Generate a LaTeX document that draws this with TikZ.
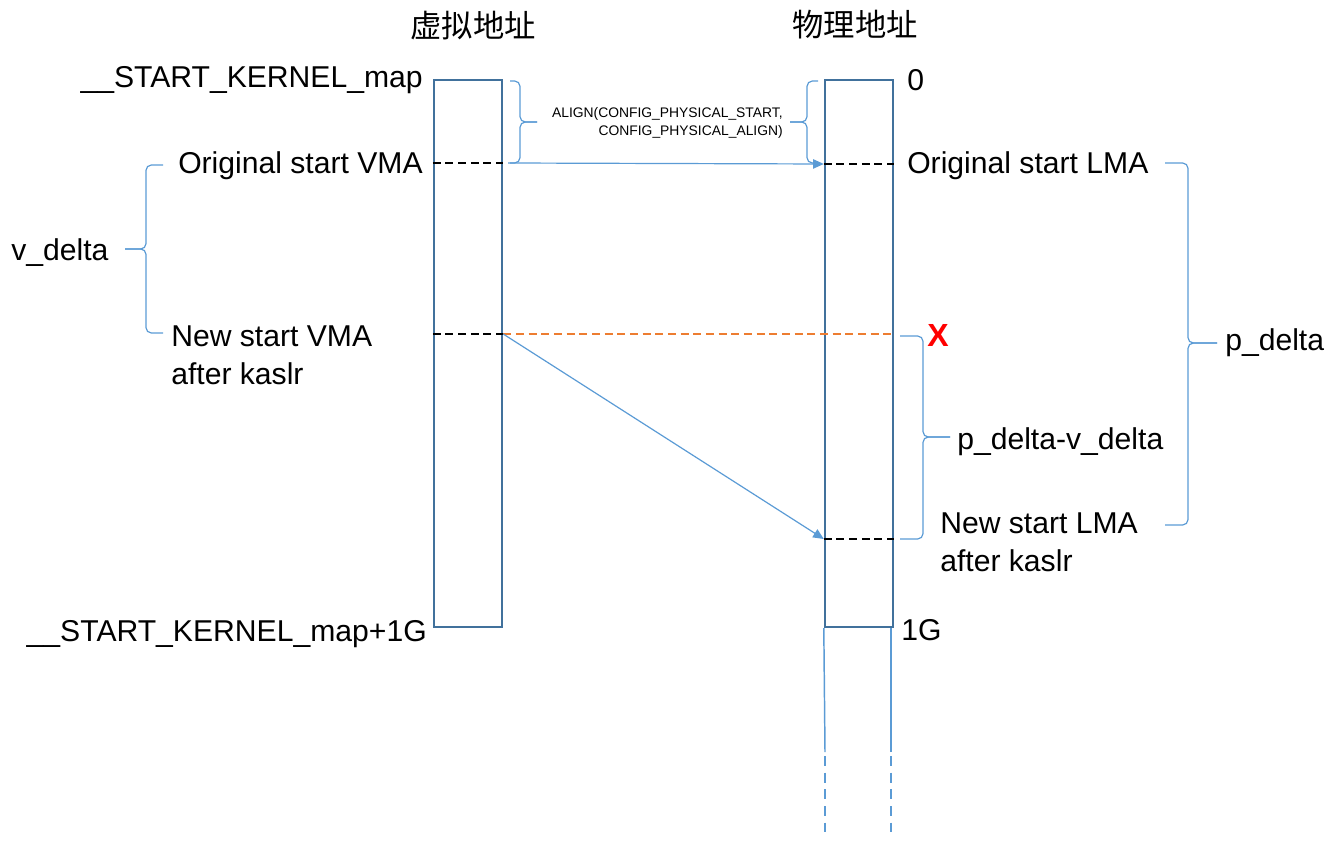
\documentclass[tikz,border=0pt]{standalone}
\usepackage{fontspec}
\setmainfont{Liberation Sans}
\newfontfamily\cjk{Noto Sans CJK SC}
\usepackage{tikz}
\usetikzlibrary{arrows.meta, positioning, calc}
\definecolor{boxblue}{HTML}{41719C}
\definecolor{lineblue}{HTML}{5B9BD5}
\definecolor{lostorange}{HTML}{ED7D31}
\tikzset{
  region/.style={
    rectangle, draw=boxblue, line width=1.8pt, inner sep=0pt,
    minimum width=51pt, minimum height=410.25pt
  },
  lbl/.style={
    inner sep=0pt, align=left, font=\fontsize{22.6}{28.5}\selectfont
  },
  title/.style={
    inner sep=0pt, font=\cjk\fontsize{23.5}{28}\selectfont
  },
  note/.style={
    inner sep=0pt, align=right, font=\fontsize{10.4}{13.5}\selectfont
  },
  cross/.style={
    inner sep=0pt, text=red, font=\bfseries\fontsize{24}{24}\selectfont
  },
  mapline/.style={
    draw=black, line width=1.6pt, dash pattern=on 6pt off 3.5pt
  },
  lost/.style={
    draw=lostorange, line width=1.6pt, dash pattern=on 6pt off 3.5pt
  },
  link/.style={
    draw=lineblue, line width=0.9pt, -{Triangle[length=8pt,width=7pt]}
  },
  curly/.style={
    draw=lineblue, line width=0.9pt, rounded corners=4pt
  },
  tail/.style={
    draw=lineblue, line width=1.1pt
  }
}

\begin{document}
\begin{tikzpicture}[x=0.75pt, y=-0.75pt]
\useasboundingbox (0,0) rectangle (1327,841);

% the two address ranges
\node[region] (vbox) at (468,353.5) {};
\node[region] (pbox) at (859,353.5) {};
\node[title] (vtitle) at (473,26) {虚拟地址};
\node[title] (ptitle) at (855,25) {物理地址};

% heights of the marks
\coordinate (vorigy) at (0,163);
\coordinate (vnewy) at (0,334);
\coordinate (porigy) at (0,164);
\coordinate (pnewy) at (0,539);

% virtual side labels
\node[lbl, anchor=base east] (kmap) at (423,88) {\_\_START\_KERNEL\_map};
\node[lbl, anchor=base east] (vorig) at (423,174) {Original start VMA};
\node[lbl, anchor=west] (vnew) at (171,355) {New start VMA\\after kaslr};
\node[lbl, anchor=base east] (kmapend) at (427,641) {\_\_START\_KERNEL\_map+1G};
\node[lbl, anchor=base west] (vdelta) at (11,261) {v\_delta};

% physical side labels
\node[lbl, anchor=base west] (zero) at (907,91) {0};
\node[lbl, anchor=base west] (porig) at (907,174) {Original start LMA};
\node[lbl, anchor=west] (pnew) at (940,542) {New start LMA\\after kaslr};
\node[lbl, anchor=base west] (oneg) at (901,640) {1G};
\node[lbl, anchor=base west] (pvdelta) at (957,449) {p\_delta-v\_delta};
\node[lbl, anchor=base west] (pdelta) at (1225,350) {p\_delta};
\node[cross, anchor=base] (lostx) at (938,347) {X};
\node[note, anchor=east] (alignnote) at (783,123) {ALIGN(CONFIG\_PHYSICAL\_START,\\CONFIG\_PHYSICAL\_ALIGN)};

% marks inside the ranges
\draw[mapline] (vbox.west |- vorigy) -- (vbox.east |- vorigy);
\draw[mapline] (vbox.west |- vnewy) -- (vbox.east |- vnewy);
\draw[mapline] (pbox.west |- porigy) -- (pbox.east |- porigy);
\draw[mapline] (pbox.west |- pnewy) -- (pbox.east |- pnewy);
\draw[lost] (vbox.east |- vnewy) -- (pbox.east |- vnewy);

% mappings
\coordinate (vstart) at (508,163);
\draw[link] (vstart) -- (pbox.west |- porigy);
\draw[link] (vbox.east |- vnewy) -- (pbox.west |- pnewy);

% memory goes on below 1G
\coordinate (taill) at (825,752);
\coordinate (tailr) at (891,752);
\draw[tail] (pbox.south west) -- (taill);
\draw[tail] (pbox.south east -| tailr) -- (tailr);
\draw[tail, dash pattern=on 7.5pt off 5pt] (taill) ++(0,4) -- (825,832);
\draw[tail, dash pattern=on 7.5pt off 5pt] (tailr) ++(0,4) -- (891,832);

% braces
\draw[curly] (510,81) -- (520,81) -- (520,122) -- (537,122);
\draw[curly] (537,122) -- (520,122) -- (520,163) -- (510,163);
\draw[curly] (818,81) -- (807,81) -- (807,122) -- (790,122);
\draw[curly] (790,122) -- (807,122) -- (807,163) -- (818,163);
\draw[curly] (163,165) -- (146,165) -- (146,249) -- (125,249);
\draw[curly] (125,249) -- (146,249) -- (146,333) -- (163,333);
\draw[curly] (900,336) -- (923,336) -- (923,437) -- (950,437);
\draw[curly] (950,437) -- (923,437) -- (923,539) -- (900,539);
\draw[curly] (1165,163) -- (1188,163) -- (1188,343) -- (1217,343);
\draw[curly] (1217,343) -- (1188,343) -- (1188,525) -- (1165,525);
\end{tikzpicture}
\end{document}
